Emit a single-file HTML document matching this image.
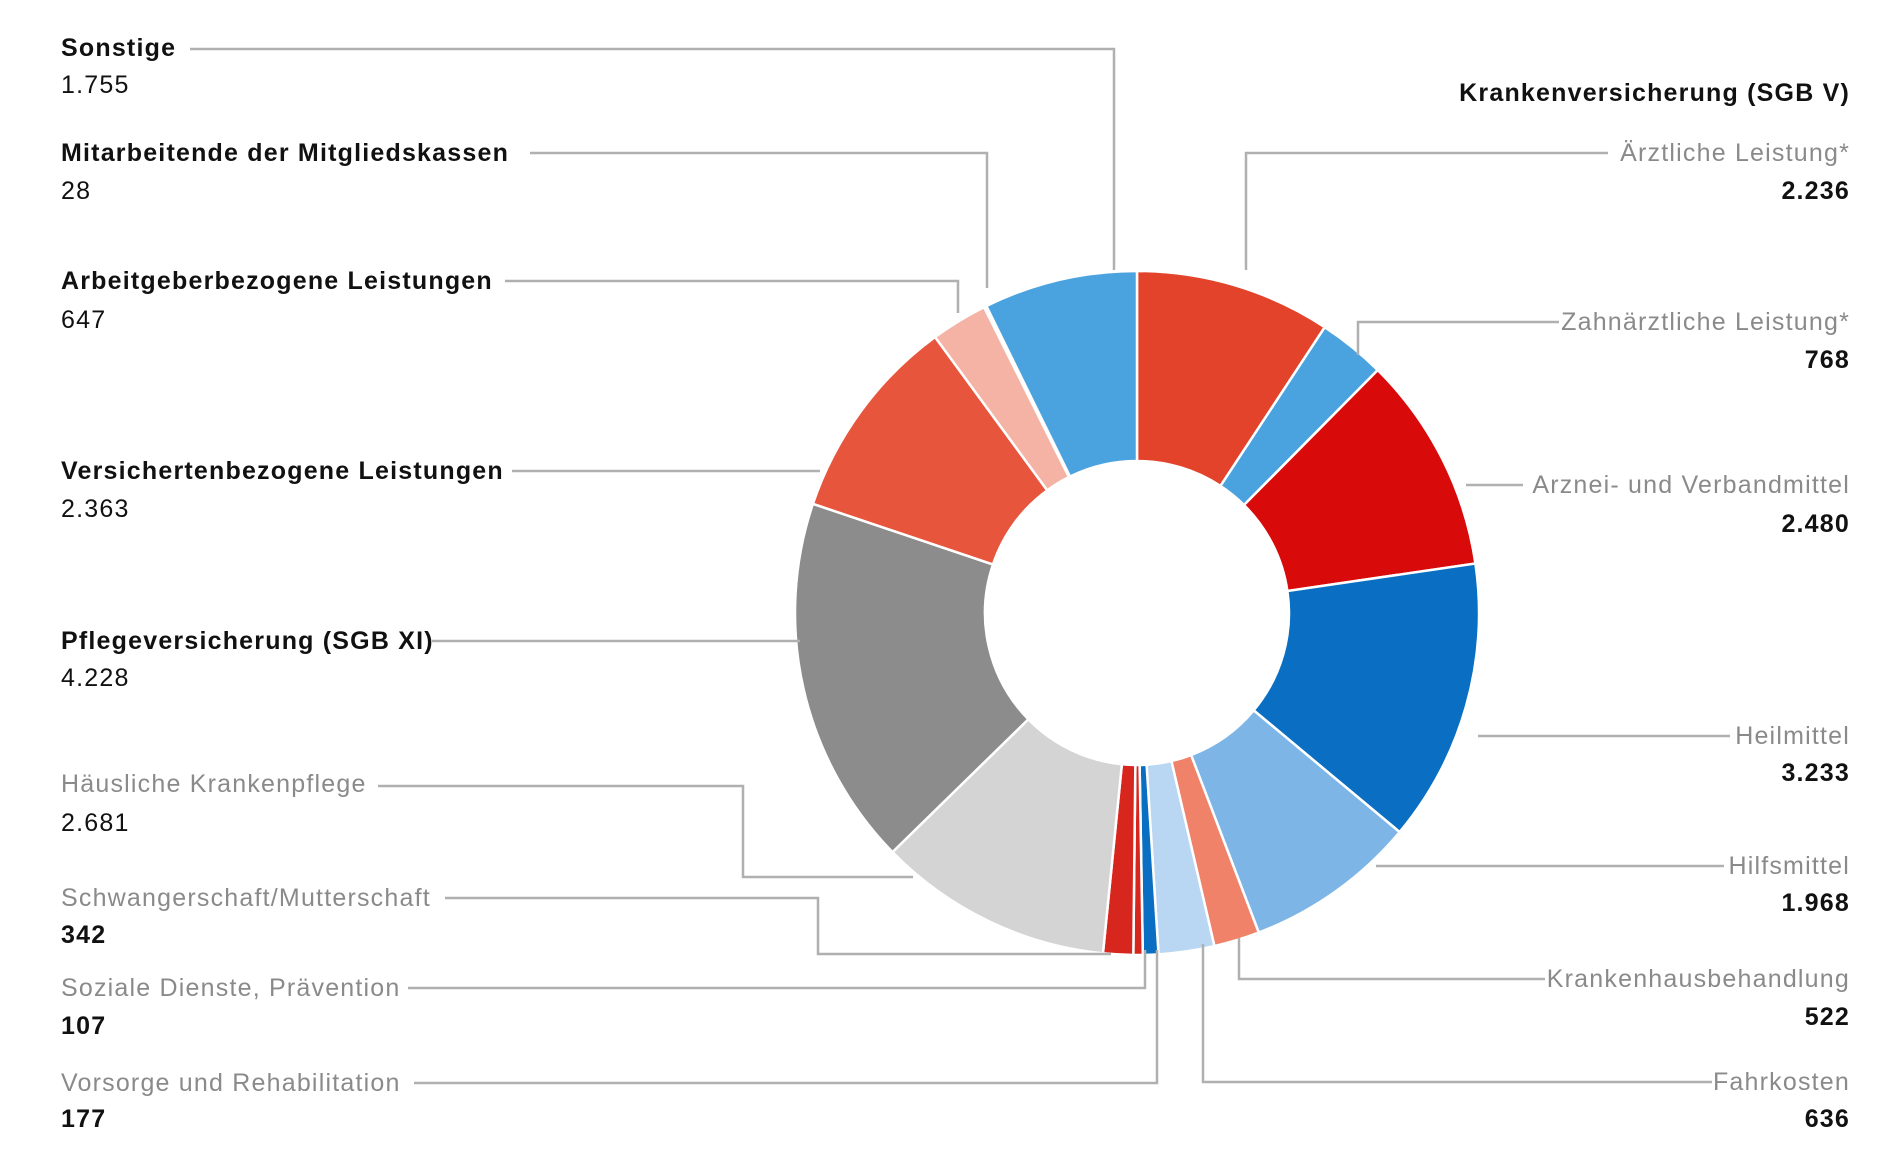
<!DOCTYPE html>
<html><head><meta charset="utf-8">
<style>
html,body{margin:0;padding:0;background:#fff;}
svg{display:block;}
text{font-family:"Liberation Sans",sans-serif;font-size:25px;letter-spacing:1.2px;}
.b{font-weight:bold;fill:#111;}
.g{fill:#8a8a8a;}
.v{fill:#111;}
.vb{fill:#111;font-weight:bold;}
.ld{stroke:#b0b0b0;stroke-width:2.5;fill:none;}
</style></head>
<body>
<svg id="chart" width="1900" height="1153" viewBox="0 0 1900 1153">
<g id="slices"></g>
<g id="leaders"></g>
<g id="labels"></g>
</svg>
<script>
const categories = ["Ärztliche Leistung*","Zahnärztliche Leistung*","Arznei- und Verbandmittel","Heilmittel","Hilfsmittel","Krankenhausbehandlung","Fahrkosten","Vorsorge und Rehabilitation","Soziale Dienste, Prävention","Schwangerschaft/Mutterschaft","Häusliche Krankenpflege","Pflegeversicherung (SGB XI)","Versichertenbezogene Leistungen","Arbeitgeberbezogene Leistungen","Mitarbeitende der Mitgliedskassen","Sonstige"];
const values = [2236,768,2480,3233,1968,522,636,177,107,342,2681,4228,2363,647,28,1755];
const valueLabels = ["2.236","768","2.480","3.233","1.968","522","636","177","107","342","2.681","4.228","2.363","647","28","1.755"];
const colors = ["#e2432a","#4aa3df","#d90a0a","#0a6fc2","#7db6e6","#f0826a","#b9d6f2","#0a6fc2","#d7261e","#d7261e","#d4d4d4","#8c8c8c","#e8553d","#f5b3a6","#f5b3a6","#4aa3df"];

const NS="http://www.w3.org/2000/svg";
const cx=1137, cy=613, R=342, r=152;
const total=values.reduce((a,b)=>a+b,0);
function angle(v){return v/total*2*Math.PI;}
function pt(a,rad){return [cx+rad*Math.sin(a), cy-rad*Math.cos(a)];}
const sg=document.getElementById('slices');
let acc=0;
values.forEach((v,i)=>{
  const a0=angle(acc), a1=angle(acc+v); acc+=v;
  const large=(a1-a0)>Math.PI?1:0;
  const p0=pt(a0,R),p1=pt(a1,R),q1=pt(a1,r),q0=pt(a0,r);
  const p=document.createElementNS(NS,'path');
  p.setAttribute('d',`M${p0[0]},${p0[1]} A${R},${R} 0 ${large} 1 ${p1[0]},${p1[1]} L${q1[0]},${q1[1]} A${r},${r} 0 ${large} 0 ${q0[0]},${q0[1]} Z`);
  p.setAttribute('fill',colors[i]);
  p.setAttribute('stroke','#fff');
  p.setAttribute('stroke-width','2.5');
  
  
  sg.appendChild(p);
});

const layout=[
 [15,'L',56,93,'b','v'],[14,'L',161,199,'b','v'],[13,'L',289,328,'b','v'],
 [12,'L',479,517,'b','v'],[11,'L',649,686,'b','v'],[10,'L',792,831,'g','v'],
 [9,'L',906,943,'g','vb'],[8,'L',996,1034,'g','vb'],[7,'L',1091,1127,'g','vb'],
 [0,'R',161,199,'g','vb'],[1,'R',330,368,'g','vb'],[2,'R',493,532,'g','vb'],
 [3,'R',744,781,'g','vb'],[4,'R',874,911,'g','vb'],[5,'R',987,1025,'g','vb'],[6,'R',1090,1127,'g','vb']
];
const lg=document.getElementById('labels');
function txt(x,y,s,cls,anchor){
  const t=document.createElementNS(NS,'text');
  t.setAttribute('x',x);t.setAttribute('y',y);t.setAttribute('class',cls);
  if(anchor)t.setAttribute('text-anchor',anchor);
  t.textContent=s;lg.appendChild(t);return t;
}
const hdr=txt(1850,101,"Krankenversicherung (SGB V)",'b','end');


layout.forEach(L=>{
  const [i,side,ny,vy,nc,vc]=L;
  const x=side==='L'?61:1850, an=side==='L'?null:'end';
  const n=txt(x,ny,categories[i],nc,an);
  
  
  const v=txt(x,vy,valueLabels[i],vc,an);
  
  
});

const leaders=[
 "M190,49 H1114 V270","M530,153 H987 V288","M505,281 H958 V313",
 "M512,471 H820","M432,641 H800",
 "M378,786 H743 V877 H913","M445,898 H818 V954 H1111",
 "M408,988 H1145 V950","M414,1083 H1157 V950",
 "M1608,153 H1246 V270","M1559,322 H1358 V355","M1523,485 H1466",
 "M1730,736 H1478","M1724,866 H1376","M1545,979 H1239 V938","M1712,1082 H1203 V944"
];
const ldg=document.getElementById('leaders');
leaders.forEach((d,k)=>{
  const p=document.createElementNS(NS,'path');
  p.setAttribute('d',d);p.setAttribute('class','ld');
  
  
  ldg.appendChild(p);
});
</script>
</body></html>
